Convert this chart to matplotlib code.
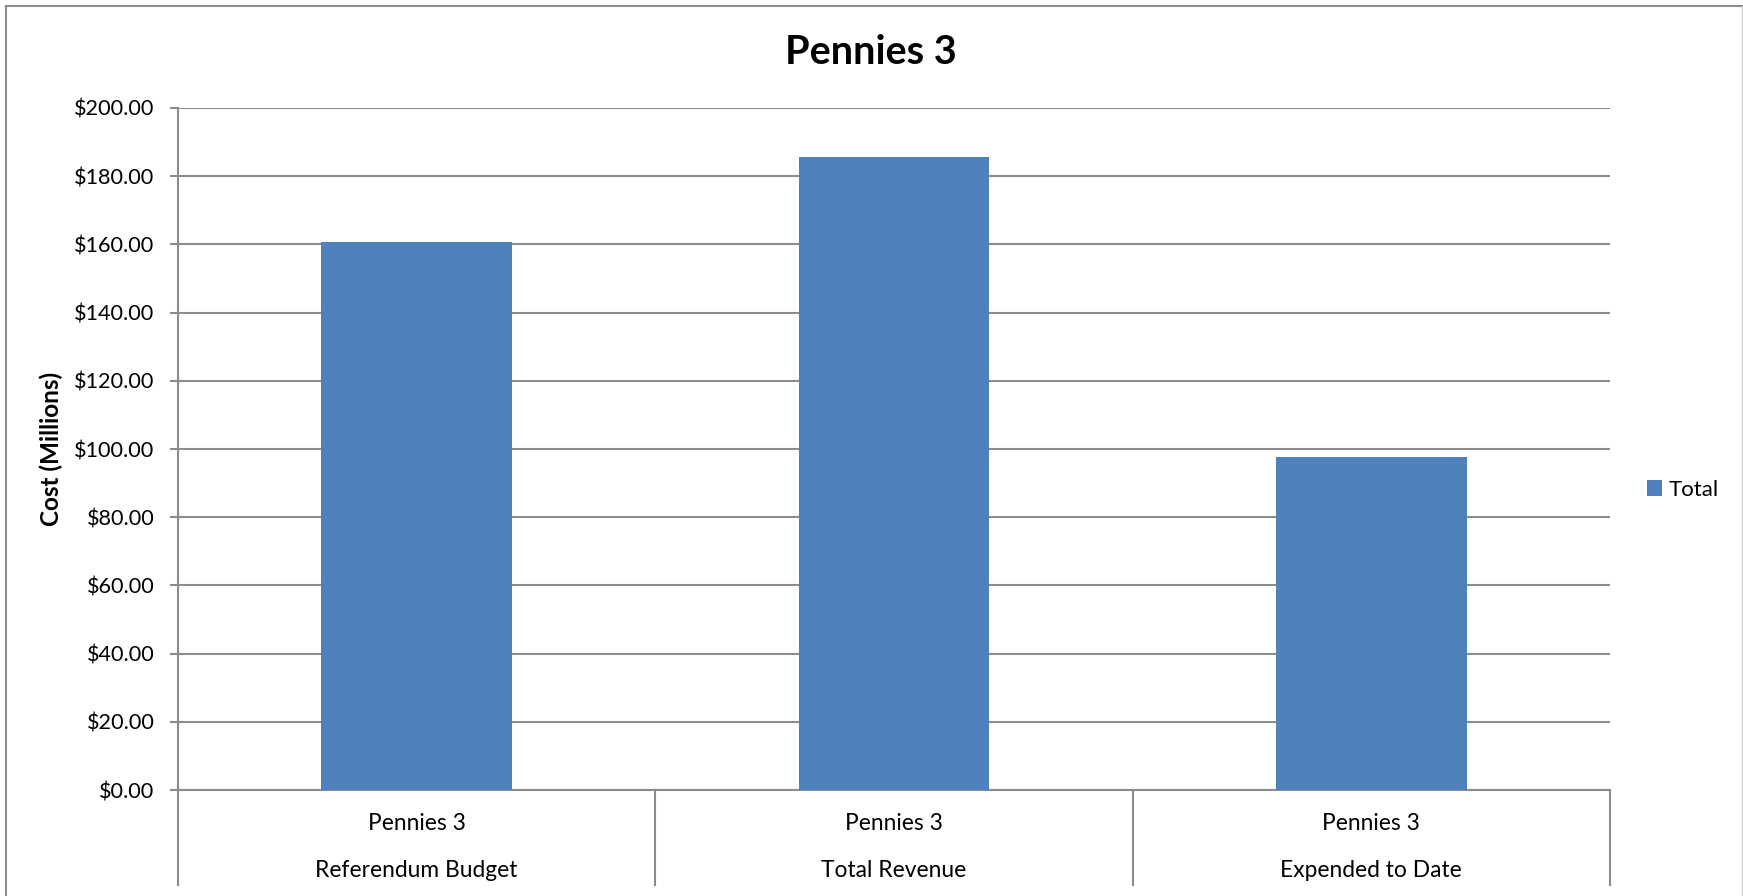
import matplotlib
matplotlib.use("Agg")
import matplotlib.pyplot as plt
import matplotlib.transforms as mtransforms
from matplotlib.lines import Line2D
from matplotlib.patches import Patch
import numpy as np

title = "Pennies 3"
group_label = "Pennies 3"
categories = ["Referendum Budget", "Total Revenue", "Expended to Date"]
values = [160.7, 185.5, 97.6]
series_name = "Total"
yticks = [0, 20, 40, 60, 80, 100, 120, 140, 160, 180, 200]

plt.rcParams['font.family'] = ['Lato', 'DejaVu Sans']

W, H = 1743, 896
fig = plt.figure(figsize=(W / 100, H / 100), dpi=100)
ax = fig.add_axes([178 / W, 1 - 790 / H, (1610 - 178) / W, (790 - 108) / H])

bar_color = "#4f81bd"
grid_color = "#8c8c8c"

x = np.arange(len(categories))
ax.bar(x, values, width=0.4, color=bar_color, zorder=3)
ax.set_xlim(-0.5, len(categories) - 0.5)
ax.set_ylim(0, 200)
ax.set_yticks(yticks)
ax.set_yticklabels([f"${v:.2f}" for v in yticks], fontsize=15.6)
ax.yaxis.grid(True, color=grid_color, linewidth=1.5, zorder=0)
ax.tick_params(axis='y', length=6, width=1.5, color=grid_color, pad=11)
ax.set_xticks([])
for s in ['top', 'right']:
    ax.spines[s].set_visible(False)
for s in ['left', 'bottom']:
    ax.spines[s].set_color(grid_color)
    ax.spines[s].set_linewidth(1.5)

ax.set_ylabel("Cost (Millions)", fontsize=17.5, fontweight='bold', labelpad=8)

trans = mtransforms.blended_transform_factory(ax.transData, ax.transAxes)
sep_bottom = -(885 - 790) / (790 - 108)
for b in np.arange(-0.5, len(categories), 1.0):
    ax.add_line(Line2D([b, b], [0, sep_bottom], transform=trans, color=grid_color,
                       linewidth=1.5, clip_on=False))
for i, c in enumerate(categories):
    ax.text(i, -(823 - 790) / 682, group_label, transform=trans, ha='center', va='center', fontsize=16.4)
    ax.text(i, -(870 - 790) / 682, c, transform=trans, ha='center', va='center', fontsize=16.4)

fig.text(871 / W, 1 - 52 / H, title, ha='center', va='center', fontsize=28.5, fontweight='bold')

fig.legend(handles=[Patch(facecolor=bar_color, label=series_name)], loc='center left',
           bbox_to_anchor=(1638 / W, 1 - 490 / H), frameon=False, fontsize=16,
           handlelength=0.7, handleheight=0.7, handletextpad=0.3, borderaxespad=0)

# outer chart border
fig.add_artist(Line2D([6 / W, 6 / W], [0, 1 - 6 / H], transform=fig.transFigure, color=grid_color, linewidth=1.5))
fig.add_artist(Line2D([6 / W, 1742 / W], [1 - 6 / H, 1 - 6 / H], transform=fig.transFigure, color=grid_color, linewidth=1.5))
fig.add_artist(Line2D([1742 / W, 1742 / W], [0, 1 - 6 / H], transform=fig.transFigure, color="#d0d0d0", linewidth=1.0))

fig.savefig("out.png", dpi=100)
